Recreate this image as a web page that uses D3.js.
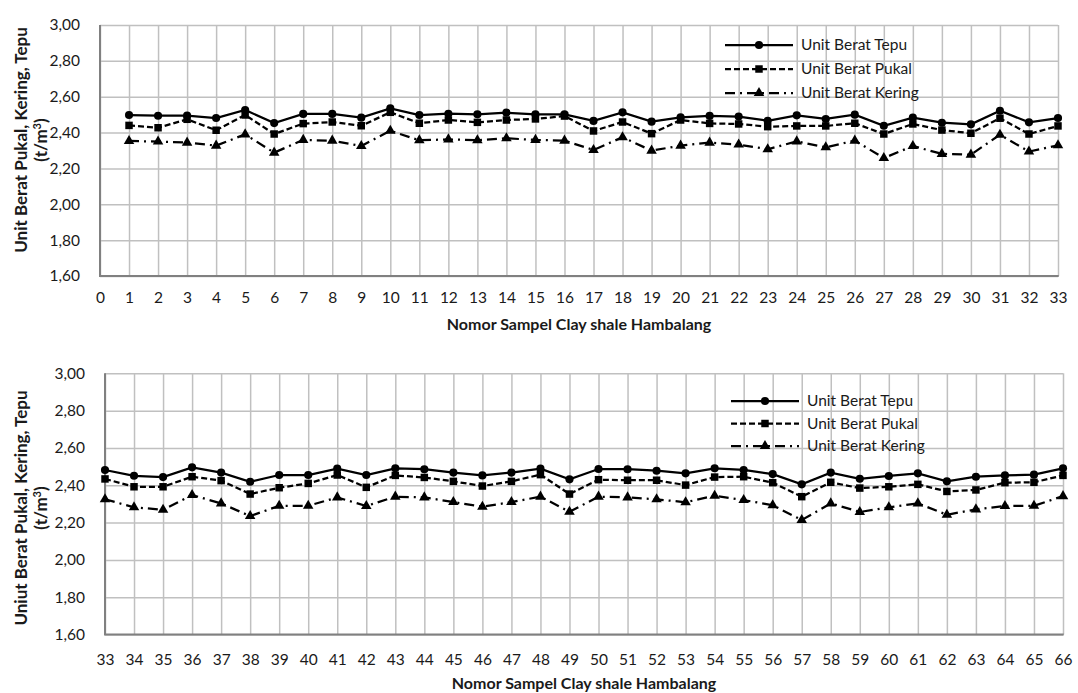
<!DOCTYPE html>
<html>
<head>
<meta charset="utf-8">
<script src="https://cdn.jsdelivr.net/npm/d3@7"></script>
<style>
  body { margin: 0; background: #fff; }
  text { font-family: Lato, "Open Sans", sans-serif; fill: #1a1a1a; }
  .grid line { stroke: #c0c0c0; stroke-width: 1.5; }
  .grid path { display: none; }
  .axis path, .axis line { display: none; }
  .axis text { font-size: 15.5px; }
  .axis-title { font-size: 16px; font-weight: bold; }
  .y-title { font-size: 17px; }
  .legend text { font-size: 15.5px; }
</style>
</head>
<body>
<div id="chart"></div>
<script>
/* CONSTANTS AND GLOBALS */
const width = 1078,
  height = 693;

// sample numbers
const samplesA = d3.range(1, 34);
const samplesB = d3.range(33, 67);

// series values, top chart (sample 1 - 33)
const tepuA = [2.498, 2.494, 2.495, 2.481, 2.526, 2.453, 2.504, 2.504, 2.483, 2.535, 2.498,
  2.505, 2.502, 2.511, 2.502, 2.502, 2.465, 2.513, 2.461, 2.485, 2.493, 2.489,
  2.466, 2.496, 2.476, 2.500, 2.438, 2.483, 2.455, 2.446, 2.522, 2.457, 2.481];
const pukalA = [2.440, 2.427, 2.474, 2.413, 2.498, 2.392, 2.450, 2.459, 2.438, 2.513, 2.452,
  2.470, 2.457, 2.470, 2.476, 2.492, 2.409, 2.459, 2.394, 2.470, 2.451, 2.448,
  2.433, 2.437, 2.437, 2.452, 2.392, 2.448, 2.414, 2.396, 2.480, 2.392, 2.437];
const keringA = [2.353, 2.350, 2.344, 2.327, 2.390, 2.288, 2.359, 2.355, 2.325, 2.410, 2.357,
  2.362, 2.357, 2.368, 2.359, 2.355, 2.303, 2.374, 2.299, 2.327, 2.344, 2.333,
  2.307, 2.351, 2.318, 2.355, 2.258, 2.325, 2.281, 2.277, 2.388, 2.294, 2.329];

// series values, bottom chart (sample 33 - 66)
const tepuB = [2.482, 2.451, 2.444, 2.496, 2.468, 2.419, 2.455, 2.455, 2.489, 2.455, 2.491,
  2.486, 2.468, 2.453, 2.468, 2.489, 2.432, 2.487, 2.486, 2.478, 2.464, 2.491,
  2.482, 2.460, 2.405, 2.468, 2.435, 2.450, 2.464, 2.421, 2.446, 2.453, 2.457, 2.491];
const pukalB = [2.434, 2.392, 2.392, 2.446, 2.425, 2.353, 2.387, 2.410, 2.455, 2.389, 2.453,
  2.442, 2.421, 2.396, 2.421, 2.457, 2.353, 2.430, 2.427, 2.427, 2.401, 2.444,
  2.446, 2.414, 2.339, 2.416, 2.385, 2.392, 2.405, 2.367, 2.375, 2.414, 2.416, 2.453];
const keringB = [2.325, 2.282, 2.269, 2.348, 2.303, 2.235, 2.290, 2.290, 2.335, 2.289, 2.339,
  2.335, 2.310, 2.285, 2.310, 2.339, 2.258, 2.339, 2.335, 2.325, 2.309, 2.344,
  2.321, 2.293, 2.214, 2.303, 2.257, 2.282, 2.303, 2.242, 2.271, 2.289, 2.290, 2.342];

// tick labels
const yTicks = [1.6, 1.8, 2.0, 2.2, 2.4, 2.6, 2.8, 3.0];
const seriesNames = ["Unit Berat Tepu", "Unit Berat Pukal", "Unit Berat Kering"];
const xTitle = "Nomor Sampel Clay shale Hambalang";

// line styles per series
const styles = [
  { dash: null, marker: d3.symbolCircle, size: 52 },
  { dash: "6,3", marker: d3.symbolSquare, size: 56 },
  { dash: "10,5,2,5", marker: d3.symbolTriangle, size: 48 },
];

const locale = d3.formatLocale({ decimal: ",", thousands: ".", grouping: [3], currency: ["", ""] });
const fmt = locale.format(".2f");

const svg = d3
  .select("#chart")
  .append("svg")
  .attr("width", width)
  .attr("height", height);

/* DRAW FUNCTION */
function drawChart(cfg) {
  const xScale = d3
    .scaleLinear()
    .domain(cfg.xDomain)
    .range([cfg.left, cfg.right]);

  const yScale = d3
    .scaleLinear()
    .domain([1.6, 3.0])
    .range([cfg.bottom, cfg.top]);

  const xTickValues = d3.range(cfg.xDomain[0], cfg.xDomain[1] + 1);
  const g = svg.append("g");

  // + GRIDLINES
  g.append("g")
    .attr("class", "grid")
    .attr("transform", `translate(0,${cfg.bottom})`)
    .call(d3.axisBottom(xScale).tickValues(xTickValues).tickSize(-(cfg.bottom - cfg.top)).tickFormat(""));

  g.append("g")
    .attr("class", "grid")
    .attr("transform", `translate(${cfg.left},0)`)
    .call(d3.axisLeft(yScale).tickValues(yTicks).tickSize(-(cfg.right - cfg.left)).tickFormat(""));

  // + AXIS LINES (left and bottom darker)
  g.append("line")
    .attr("x1", cfg.left).attr("x2", cfg.left)
    .attr("y1", cfg.top).attr("y2", cfg.bottom)
    .attr("stroke", "#808080").attr("stroke-width", 2);
  g.append("line")
    .attr("x1", cfg.left - 1).attr("x2", cfg.right + 0.75)
    .attr("y1", cfg.bottom).attr("y2", cfg.bottom)
    .attr("stroke", "#808080").attr("stroke-width", 2);

  // + TICK LABELS
  g.append("g")
    .attr("class", "axis")
    .attr("transform", `translate(0,${cfg.bottom})`)
    .call(d3.axisBottom(xScale).tickValues(xTickValues).tickSize(0).tickPadding(cfg.xPad).tickFormat(d3.format("d")));

  g.append("g")
    .attr("class", "axis")
    .attr("transform", `translate(${cfg.left},0)`)
    .call(d3.axisLeft(yScale).tickValues(yTicks).tickSize(0).tickPadding(20).tickFormat(fmt));

  // + AXIS TITLES
  g.append("text")
    .attr("class", "axis-title")
    .attr("x", (cfg.left + cfg.right) / 2)
    .attr("y", cfg.bottom + cfg.titleDy)
    .attr("text-anchor", "middle")
    .text(xTitle);

  const yt = g.append("text")
    .attr("class", "axis-title y-title")
    .attr("text-anchor", "middle")
    .attr("transform", `translate(27,${cfg.yTitleCenter}) rotate(-90)`);
  yt.append("tspan").attr("x", 0).attr("y", 0).text(cfg.yTitle);
  const t2 = yt.append("tspan").attr("x", 0).attr("y", 20).text("(t/m");
  t2.append("tspan").attr("dy", -6).attr("font-size", "11px").text("3");
  t2.append("tspan").attr("dy", 6).text(")");

  // + LINES AND MARKERS
  const lineFunc = d3
    .line()
    .x((d, i) => xScale(cfg.samples[i]))
    .y(d => yScale(d));

  cfg.series.forEach((values, s) => {
    g.append("path")
      .datum(values)
      .attr("fill", "none")
      .attr("stroke", "#000")
      .attr("stroke-width", 2.25)
      .attr("stroke-dasharray", styles[s].dash)
      .attr("d", lineFunc);

    g.selectAll(null)
      .data(values)
      .join("path")
      .attr("transform", (d, i) => `translate(${xScale(cfg.samples[i])},${yScale(d)})`)
      .attr("d", d3.symbol().type(styles[s].marker).size(styles[s].size))
      .attr("fill", "#000");
  });

  // + LEGEND
  const legend = g.append("g").attr("class", "legend");
  seriesNames.forEach((name, s) => {
    const ly = cfg.legendY + s * cfg.legendStep;
    legend.append("line")
      .attr("x1", cfg.legendX).attr("x2", cfg.legendX + 68)
      .attr("y1", ly).attr("y2", ly)
      .attr("stroke", "#000")
      .attr("stroke-width", 2.25)
      .attr("stroke-dasharray", styles[s].dash);
    legend.append("path")
      .attr("transform", `translate(${cfg.legendX + 34},${ly})`)
      .attr("d", d3.symbol().type(styles[s].marker).size(styles[s].size))
      .attr("fill", "#000");
    legend.append("text")
      .attr("x", cfg.legendX + 76)
      .attr("y", ly)
      .attr("dy", "0.35em")
      .text(name);
  });
}

drawChart({
  xDomain: [0, 33],
  samples: samplesA,
  series: [tepuA, pukalA, keringA],
  left: 100, right: 1058, top: 25, bottom: 276,
  xPad: 16, titleDy: 54,
  yTitle: "Unit Berat Pukal, Kering, Tepu",
  yTitleCenter: 140,
  legendX: 725, legendY: 45, legendStep: 24,
});

drawChart({
  xDomain: [33, 66],
  samples: samplesB,
  series: [tepuB, pukalB, keringB],
  left: 105, right: 1063, top: 373.3, bottom: 634.6,
  xPad: 19, titleDy: 54,
  yTitle: "Uniut Berat Pukal, Kering, Tepu",
  yTitleCenter: 508,
  legendX: 731, legendY: 401, legendStep: 22.5,
});
</script>
</body>
</html>
